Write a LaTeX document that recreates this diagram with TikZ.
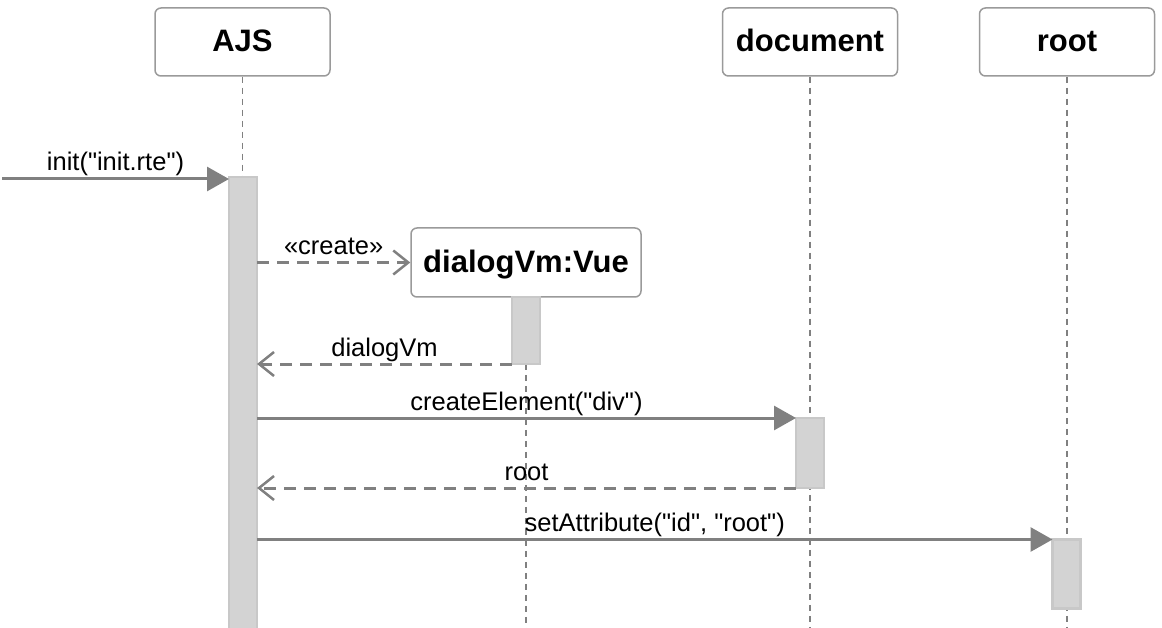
\documentclass[tikz,border=0pt]{standalone}
\usepackage{fontspec}
\setmainfont{Liberation Sans}[Ligatures=TeXOff]
\usetikzlibrary{arrows.meta, positioning}
\definecolor{edgegray}{HTML}{808080}
\definecolor{boxgray}{HTML}{9A9A9A}
\definecolor{actfill}{HTML}{D3D3D3}
\definecolor{actline}{HTML}{C8C8C8}

\begin{document}
\begin{tikzpicture}[x=1pt, y=-1pt,
	head/.style={draw=boxgray, line width=1.5pt, rounded corners=6pt, fill=white, minimum width=175pt, minimum height=68pt, inner sep=0pt, text height=22pt, text depth=2pt, font=\fontsize{31}{36}\selectfont\bfseries},
	act/.style={draw=actline, line width=2.5pt, fill=actfill, minimum width=28pt, inner sep=0pt, outer sep=0pt},
	life/.style={draw=edgegray, line width=1.8pt, dash pattern=on 6pt off 5pt},
	call/.style={draw=edgegray, line width=3pt, -{Triangle[length=22pt, width=24pt]}},
	reply/.style={draw=edgegray, line width=3pt, dash pattern=on 12pt off 8pt, -{Straight Barb[length=15pt, width=24pt, line width=2.5pt]}},
	msg/.style={midway, anchor=base, yshift=8pt, inner sep=0pt, font=\fontsize{25.5}{30}\selectfont}]
	\useasboundingbox (0,0) rectangle (1162,628);

	\node[head] (ajs) at (242.5,42) {AJS};
	\node[head] (doc) at (810,42) {document};
	\node[head] (root) at (1067,42) {root};
	\node[head, minimum width=230pt, minimum height=69pt] (dlg) at (526,262.5) {dialogVm:Vue};

	\begin{scope}
	\draw[life] (ajs.south) -- (ajs.south |- 0,628);
	\draw[life] (doc.south) -- (doc.south |- 0,628);
	\draw[life] (root.south) -- (root.south |- 0,628);
	\draw[life] (dlg.south) -- (dlg.south |- 0,628);
	\end{scope}

	\node[act, minimum height=456pt] (ajsact) at (243,405) {};
	\node[act, minimum height=67pt] (dlgact) at (526,330.5) {};
	\node[act, minimum height=70pt] (docact) at (810,453) {};
	\node[act, minimum height=69pt] (rootact) at (1066.5,574) {};

	\coordinate (start) at (2,179);
	\draw[call] (start) -- (ajsact.west |- start) node[msg] {init("init.rte")};
	\draw[reply] (ajsact.east |- dlg.west) -- (dlg.west) node[msg] {«create»};
	\draw[reply] (dlgact.south west) -- (ajsact.east |- dlgact.south) node[msg] {dialogVm};
	\draw[call] (ajsact.east |- docact.north) -- (docact.north west) node[msg] {createElement("div")};
	\draw[reply] (docact.south west) -- (ajsact.east |- docact.south) node[msg] {root};
	\draw[call] (ajsact.east |- rootact.north) -- (rootact.north west) node[msg] {setAttribute("id", "root")};
\end{tikzpicture}
\end{document}
